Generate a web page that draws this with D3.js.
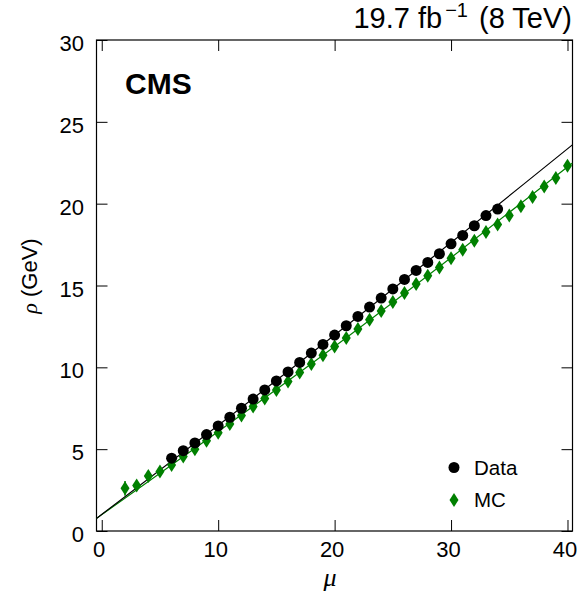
<!DOCTYPE html>
<html>
<head>
<meta charset="utf-8">
<script src="https://cdn.jsdelivr.net/npm/d3@7"></script>
<style>
  html, body { margin: 0; padding: 0; background: #fff; }
  svg { display: block; }
  text { font-family: "Liberation Sans", Arial, Helvetica, sans-serif; fill: #000; }
</style>
</head>
<body>
<svg id="chart" width="585" height="593"></svg>
<script>
// ---- data ----
const dataMu  = [6,7,8,9,10,11,12,13,14,15,16,17,18,19,20,21,22,23,24,25,26,27,28,29,30,31,32,33,34];
const dataRho = [4.45,4.91,5.38,5.89,6.42,6.95,7.50,8.06,8.62,9.17,9.72,10.30,10.87,11.40,11.97,12.54,13.11,13.68,14.23,14.79,15.37,15.92,16.41,16.94,17.55,18.06,18.65,19.27,19.67];
const mcMu    = [2,3,4,5,6,7,8,9,10,11,12,13,14,15,16,17,18,19,20,21,22,23,24,25,26,27,28,29,30,31,32,33,34,35,36,37,38,39,40];
const mcRho   = [2.61,2.78,3.36,3.63,4.04,4.55,5.00,5.52,6.01,6.54,7.05,7.60,8.10,8.62,9.13,9.68,10.21,10.74,11.27,11.79,12.34,12.90,13.44,13.99,14.54,15.09,15.60,16.10,16.66,17.19,17.74,18.27,18.72,19.27,19.84,20.41,21.05,21.57,22.32];
const mcErr   = [0.45,0.25,0.2,0.15,0.12,0.1,0.1,0.1,0.1,0.1,0.1,0.1,0.1,0.1,0.1,0.1,0.1,0.1,0.1,0.1,0.1,0.1,0.1,0.1,0.1,0.1,0.1,0.1,0.1,0.1,0.1,0.1,0.1,0.1,0.1,0.1,0.1,0.1,0.1];
const dataFitMu  = [-0.45, 20, 40.43];
const dataFitRho = [0.77, 11.97, 23.60];
const mcFitMu    = [-0.45, 20, 40.43];
const mcFitRho   = [0.77, 11.27, 22.49];
const xTicks = [0, 10, 20, 30, 40];
const yTicks = [0, 5, 10, 15, 20, 25, 30];
const xDomain = [-0.45, 40.43];
const yDomain = [0, 30];
const legendLabels = ["Data", "MC"];

// ---- layout ----
const L = 96.5, R = 572.5, T = 40, B = 531;
const green = "#008000";
const svg = d3.select("#chart");
const x = d3.scaleLinear().domain(xDomain).range([L, R]);
const y = d3.scaleLinear().domain(yDomain).range([B, T]);

// axes (ticks inside)
const gx = svg.append("g").attr("transform", `translate(0,${B})`)
  .call(d3.axisBottom(x).tickValues(xTicks).tickSize(-11).tickSizeOuter(0).tickPadding(10.5));
gx.selectAll("text").attr("font-size", 22).attr("dx", -3).style("font-family", "Liberation Sans, Arial, sans-serif");
const gy = svg.append("g").attr("transform", `translate(${L},0)`)
  .call(d3.axisLeft(y).tickValues(yTicks).tickSize(-11).tickSizeOuter(0).tickPadding(12.5));
gy.selectAll("text").attr("font-size", 22).attr("dy", 10.5).style("font-family", "Liberation Sans, Arial, sans-serif");
svg.append("g").attr("transform", `translate(0,${T})`)
  .call(d3.axisTop(x).tickValues(xTicks).tickSize(-11).tickSizeOuter(0).tickFormat(""));
svg.append("g").attr("transform", `translate(${R},0)`)
  .call(d3.axisRight(y).tickValues(yTicks).tickSize(-11).tickSizeOuter(0).tickFormat(""));
svg.selectAll(".domain").remove();
svg.selectAll(".tick line").attr("stroke", "#000").attr("stroke-width", 1);

// frame
svg.append("rect").attr("x", L).attr("y", T).attr("width", R - L).attr("height", B - T)
  .attr("fill", "none").attr("stroke", "#000").attr("stroke-width", 1.2);

// clip
svg.append("clipPath").attr("id", "clip").append("rect")
  .attr("x", L).attr("y", T).attr("width", R - L).attr("height", B - T);
const plot = svg.append("g").attr("clip-path", "url(#clip)");

// fit lines
const line = d3.line().x(d => x(d[0])).y(d => y(d[1])).curve(d3.curveNatural);
plot.append("path").datum(d3.zip(mcFitMu, mcFitRho)).attr("d", line)
  .attr("fill", "none").attr("stroke", green).attr("stroke-width", 1.2);
plot.append("path").datum(d3.zip(dataFitMu, dataFitRho)).attr("d", line)
  .attr("fill", "none").attr("stroke", "#000").attr("stroke-width", 1.2);

// MC diamonds with error bars
const diamond = (cx, cy, w, h) => `M${cx},${cy - h}L${cx + w},${cy}L${cx},${cy + h}L${cx - w},${cy}Z`;
const mc = d3.range(mcMu.length).map(i => ({ mu: mcMu[i], rho: mcRho[i], err: mcErr[i] }));
plot.selectAll(".mcerr").data(mc).enter().append("line")
  .attr("x1", d => x(d.mu)).attr("x2", d => x(d.mu))
  .attr("y1", d => y(d.rho - d.err)).attr("y2", d => y(d.rho + d.err))
  .attr("stroke", green).attr("stroke-width", 1.5);
plot.selectAll(".mc").data(mc).enter().append("path")
  .attr("d", d => diamond(x(d.mu), y(d.rho), 4.5, 7)).attr("fill", green);

// Data circles
const dat = d3.range(dataMu.length).map(i => ({ mu: dataMu[i], rho: dataRho[i] }));
plot.selectAll(".dat").data(dat).enter().append("circle")
  .attr("cx", d => x(d.mu)).attr("cy", d => y(d.rho)).attr("r", 5.5).attr("fill", "#000");

// legend
svg.append("circle").attr("cx", 454).attr("cy", 467.5).attr("r", 5.5).attr("fill", "#000");
svg.append("path").attr("d", diamond(454, 500, 4.5, 7)).attr("fill", green);
svg.append("text").attr("x", 474).attr("y", 475).attr("font-size", 20.5).text(legendLabels[0]);
svg.append("text").attr("x", 474).attr("y", 507).attr("font-size", 20.5).text(legendLabels[1]);

// CMS label
svg.append("text").attr("x", 125).attr("y", 93.5).attr("font-size", 30).attr("font-weight", "bold").text("CMS");

// top-right title
const tt = svg.append("text").attr("x", 572).attr("y", 28).attr("font-size", 29).attr("text-anchor", "end");
tt.append("tspan").text("19.7 fb");
tt.append("tspan").attr("font-size", 20).attr("dy", -11).attr("dx", 3).text("\u22121");
tt.append("tspan").attr("dy", 11).attr("dx", 3).text(" (8 TeV)");

// axis titles
svg.append("text").attr("x", 330).attr("y", 586).attr("font-size", 26).attr("text-anchor", "middle")
  .style("font-family", "Liberation Serif, Times New Roman, serif").attr("font-style", "italic").text("\u03bc");
const yt = svg.append("text").attr("transform", "translate(37,276) rotate(-90)").attr("text-anchor", "middle").attr("font-size", 22);
yt.append("tspan").style("font-family", "Liberation Serif, Times New Roman, serif").attr("font-style", "italic").text("\u03c1");
yt.append("tspan").text(" (GeV)");
</script>
</body>
</html>
